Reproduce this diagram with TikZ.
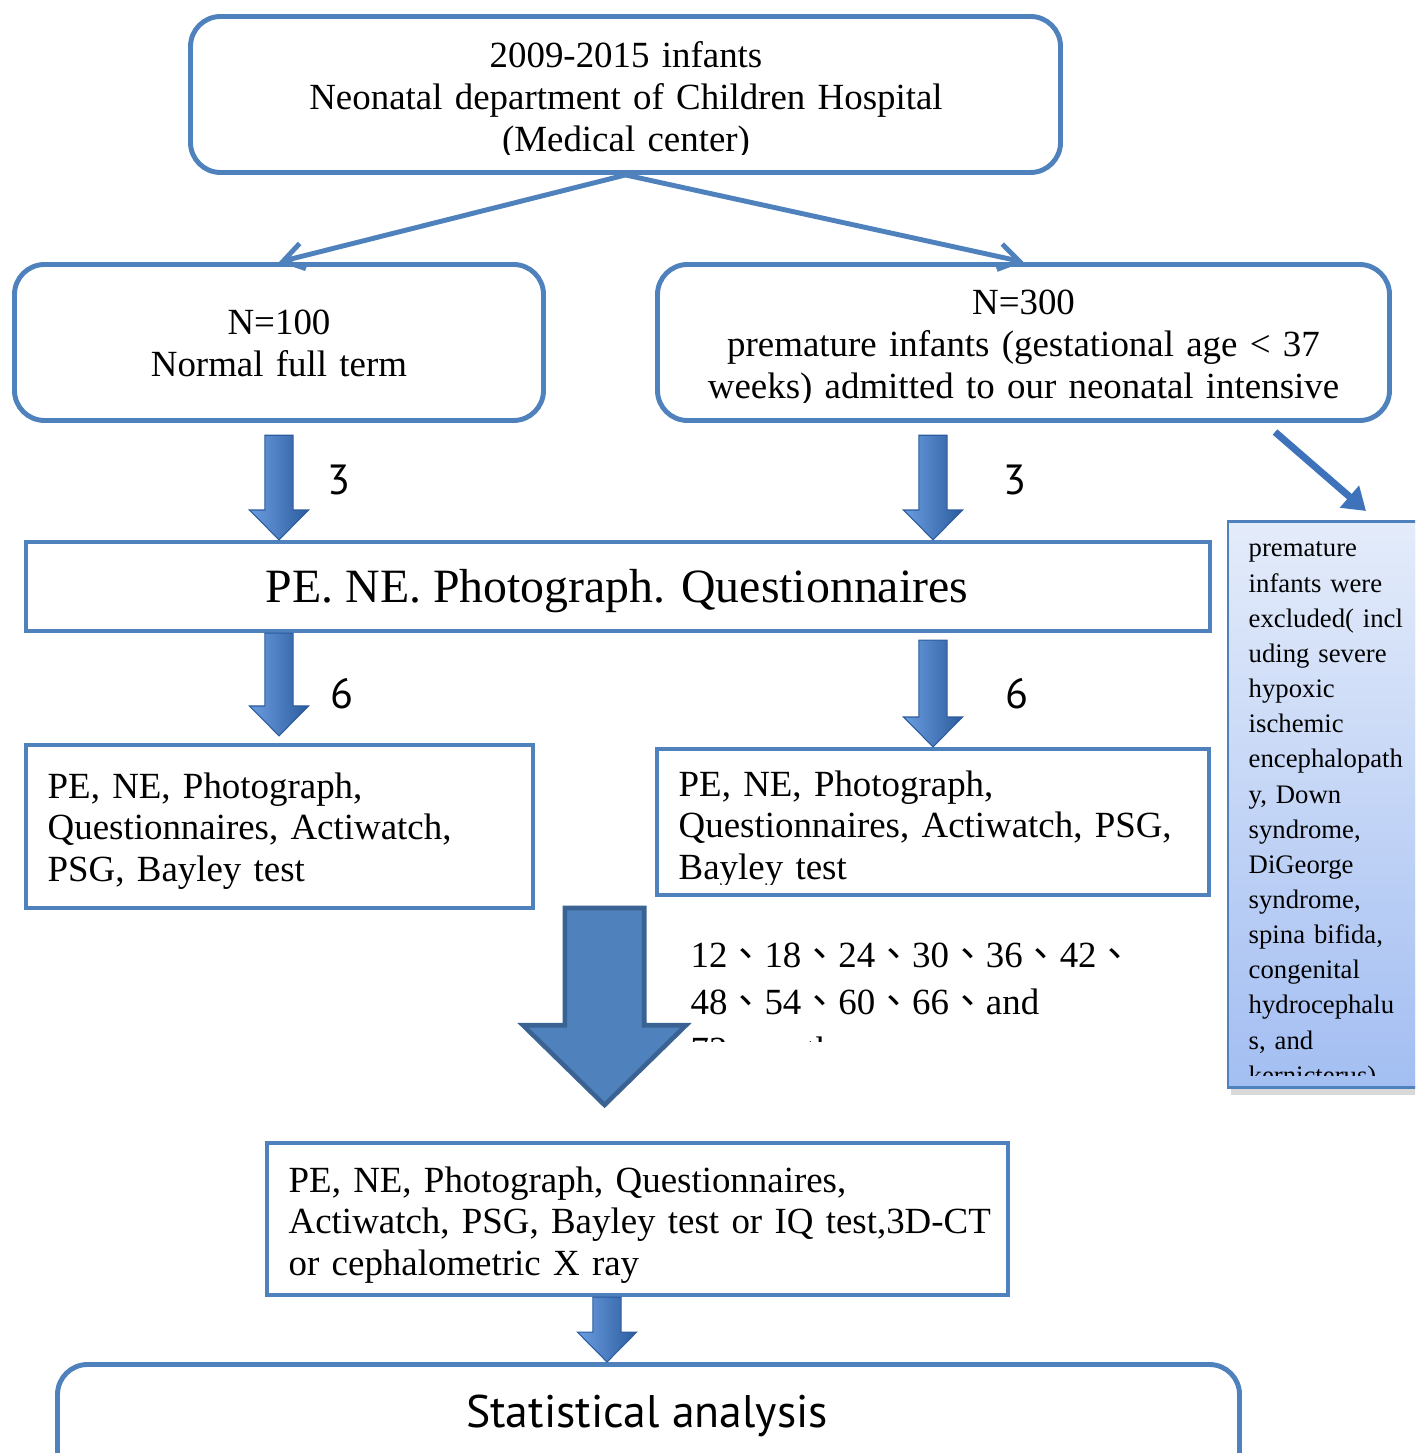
\documentclass[tikz,border=0pt]{standalone}
\usepackage{fontspec}
\setmainfont{Liberation Serif}
\newfontfamily\sansfont{PT Sans}
\newfontfamily\cjkfont{Noto Sans CJK TC}
\usetikzlibrary{arrows.meta,calc}
\definecolor{boxblue}{HTML}{4F81BD}
\definecolor{arrowdark}{HTML}{2C5C9E}
\definecolor{arrowlight}{HTML}{6A9DE0}
\definecolor{arrowmid}{HTML}{3E72BA}
\definecolor{bigedge}{HTML}{3A6292}
\definecolor{exctop}{HTML}{E4ECFA}
\definecolor{excbottom}{HTML}{A3BEF2}
\newcommand{\dun}{{\cjkfont 、}}
\newcommand{\fatarrow}[2]{\path[blockarrow] let \p1=#1, \p2=#2 in
  (\x1-4pt,\y1) -- (\x1+4pt,\y1) -- (\x1+4pt,\y2+8.5pt) -- (\x1+8.4pt,\y2+8.5pt)
  -- (\x1,\y2) -- (\x1-8.4pt,\y2+8.5pt) -- (\x1-4pt,\y2+8.5pt) -- cycle;}
\begin{document}
\begin{tikzpicture}[x=1cm,y=-1cm,
    roundbox/.style={draw=boxblue, line width=1.4pt, rounded corners=0.3cm, inner sep=0},
    plainbox/.style={draw=boxblue, line width=1.2pt, inner sep=0},
    boxtext/.style={inner sep=0, font=\fontsize{10.5}{11.9}\selectfont},
    link/.style={draw=boxblue, line width=1.4pt, -{Straight Barb[length=2mm,width=2.6mm]}},
    blockarrow/.style={left color=arrowlight, right color=arrowdark, draw=arrowdark, line width=0.3pt},
    steplabel/.style={inner sep=0, anchor=base west, font=\sansfont\fontsize{12}{14}\selectfont}]
    \useasboundingbox (0,0) rectangle (14.15,14.53);
    \clip (0,0) rectangle (14.15,14.53);

    \node[roundbox, minimum width=8.70cm, minimum height=1.56cm] (top) at (6.255,0.945) {};
    \begin{scope}
        \clip (1.95,0.2) rectangle (10.55,1.55);
        \node[boxtext, text width=8cm, align=center, anchor=base] (toptext) at (6.26,0.68)
            {2009-2015 infants\\Neonatal department of Children Hospital\\(Medical center)};
    \end{scope}

    \node[roundbox, minimum width=5.29cm, minimum height=1.56cm] (n100) at (2.79,3.425) {};
    \node[boxtext, text width=5cm, align=center, anchor=base] (n100text) at (2.79,3.35)
        {N=100\\Normal full term};
    \node[roundbox, minimum width=7.32cm, minimum height=1.56cm] (n300) at (10.235,3.425) {};
    \begin{scope}
        \clip (6.62,2.70) rectangle (13.85,4.03);
        \node[boxtext, text width=7cm, align=center, anchor=base] (n300text) at (10.235,3.15)
            {N=300\\premature infants (gestational age < 37\\weeks) admitted to our neonatal intensive};
    \end{scope}
    \draw[link] (top.south) -- (n100.north);
    \draw[link] (top.south) -- (n300.north);

    \node[plainbox, minimum width=11.84cm, minimum height=0.89cm] (pe) at (6.18,5.865) {};
    \node[inner sep=0, font=\fontsize{13.6}{16}\selectfont, anchor=base] (petext) at (6.17,6.03)
        {PE. NE. Photograph. Questionnaires};

    \node[plainbox, minimum width=5.07cm, minimum height=1.63cm] (lbox) at (2.795,8.265) {};
    \node[boxtext, text width=4.9cm, align=left, anchor=base west] (lboxtext) at (0.47,7.98)
        {PE, NE, Photograph,\\Questionnaires, Actiwatch,\\PSG, Bayley test};
    \node[plainbox, minimum width=5.52cm, minimum height=1.46cm] (rbox) at (9.33,8.22) {};
    \begin{scope}
        \clip (6.62,7.55) rectangle (12.05,8.84);
        \node[boxtext, text width=5.2cm, align=left, anchor=base west] (rboxtext) at (6.78,7.96)
            {PE, NE, Photograph,\\Questionnaires, Actiwatch, PSG,\\Bayley test};
    \end{scope}

    \coordinate (r1) at (n300.south -| rbox.north);
    \coordinate (r2) at (pe.north -| rbox.north);
    \coordinate (r3) at (pe.south -| rbox.north);
    \coordinate (l2) at (pe.north -| n100.south);
    \coordinate (l3) at (pe.south -| n100.south);
    \fatarrow{([yshift=-3.5pt]n100.south)}{(l2)}
    \fatarrow{([yshift=-3.5pt]r1)}{(r2)}
    \fatarrow{(l3)}{([yshift=2pt]lbox.north)}
    \fatarrow{([yshift=-2pt]r3)}{(rbox.north)}
    \node[steplabel] (step3l) at (3.27,4.95) {3};
    \node[steplabel] (step3r) at (10.03,4.95) {3};
    \node[steplabel] (step6l) at (3.30,7.08) {6};
    \node[steplabel] (step6r) at (10.05,7.08) {6};

    \fill[gray!30] (12.31,5.29) rectangle (14.3,10.95);
    \node[draw=boxblue, line width=0.6pt, top color=exctop, bottom color=excbottom,
        minimum width=1.95cm, minimum height=5.66cm, inner sep=0] (excl) at (13.255,8.045) {};
    \begin{scope}
        \clip (12.3,5.25) rectangle (14.15,10.75);
        \node[inner sep=0, font=\fontsize{7.6}{10}\selectfont, text width=1.8cm, align=left,
            anchor=base west] (excltext) at (12.48,5.57)
            {premature\\infants were\\excluded( incl\\uding severe\\hypoxic\\ischemic\\encephalopath\\y, Down\\syndrome,\\DiGeorge\\syndrome,\\spina bifida,\\congenital\\hydrocephalu\\s, and\\kernicterus)};
    \end{scope}
    \coordinate (dstart) at (12.75,4.32);
    \coordinate (dend) at (13.66,5.11);
    \draw[line width=2pt, draw=arrowmid, -{Triangle[width=0.28cm,length=0.22cm]}] (dstart) -- (dend);

    \coordinate (bigtop) at (6.045,9.08);
    \coordinate (bigtip) at (6.045,11.05);
    \path[fill=boxblue, draw=bigedge, line width=1.3pt] let \p1=(bigtop), \p2=(bigtip) in
        (\x1-11.3pt,\y1) -- (\x1+11.3pt,\y1) -- (\x1+11.3pt,\y2+22.7pt) -- (\x1+23.2pt,\y2+22.7pt)
        -- (\x1,\y2) -- (\x1-23.2pt,\y2+22.7pt) -- (\x1-11.3pt,\y2+22.7pt) -- cycle;
    \begin{scope}
        \clip (6.8,9.2) rectangle (11.6,10.41);
        \node[inner sep=0, font=\fontsize{10.5}{13.6}\selectfont, text width=5cm, align=left,
            anchor=base west] (months) at (6.90,9.67)
            {12\dun18\dun24\dun30\dun36\dun42\dun\\48\dun54\dun60\dun66\dun and\\72 months};
    \end{scope}

    \node[plainbox, minimum width=7.41cm, minimum height=1.52cm] (bbox) at (6.375,12.19) {};
    \node[boxtext, text width=7.3cm, align=left, anchor=base west] (bboxtext) at (2.88,11.92)
        {PE, NE, Photograph, Questionnaires,\\Actiwatch, PSG, Bayley test or IQ test,3D-CT\\or cephalometric X ray};

    \node[roundbox, minimum width=11.82cm, minimum height=1.4cm] (stat) at (6.485,14.345) {};
    \node[inner sep=0, font=\sansfont\fontsize{13}{15}\selectfont, anchor=base] (stattext) at (6.47,14.27)
        {Statistical analysis};
    \coordinate (sa) at (6.07,0);
    \fatarrow{(bbox.south -| sa)}{(stat.north -| sa)}
\end{tikzpicture}
\end{document}
